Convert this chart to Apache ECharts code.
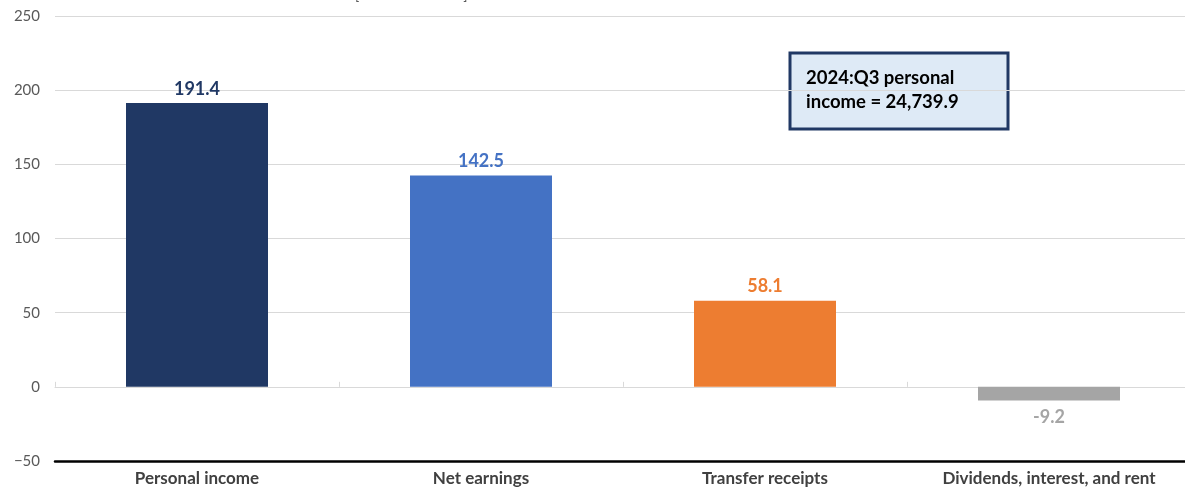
<!DOCTYPE html>
<html>
<head>
<meta charset="utf-8">
<script src="https://cdn.jsdelivr.net/npm/echarts@6/dist/echarts.min.js"></script>
<style>html,body{margin:0;padding:0;background:#fff;overflow:hidden}#c{width:1191px;height:487px}</style>
</head>
<body>
<div id="c"></div>
<script>
const categories = ['Personal income', 'Net earnings', 'Transfer receipts', 'Dividends, interest, and rent'];
const values = [191.4, 142.5, 58.1, -9.2];
const barColors = ['#203864', '#4472C4', '#ED7D31', '#A5A5A5'];
const yTicks = { min: -50, max: 250, interval: 50 };
const subtitle = '[Billions of dollars]';
const noteLines = ['2024:Q3 personal', 'income = 24,739.9'];

const FONT = 'Lato, "Open Sans", sans-serif';
const chart = echarts.init(document.getElementById('c'), null, { renderer: 'canvas' });
chart.setOption({
  animation: false,
  textStyle: { fontFamily: FONT },
  grid: { left: 55, right: 0, top: 16, bottom: 26, containLabel: false },
  xAxis: [
    {
      type: 'category', data: categories, position: 'bottom',
      axisLine: { onZero: false, lineStyle: { color: '#000', width: 2.5 } },
      axisTick: { show: false },
      axisLabel: { color: '#404040', fontWeight: 'bold', fontSize: 17, margin: 9, fontFamily: FONT, interval: 0 }
    },
    {
      type: 'category', data: categories, position: 'bottom',
      axisLine: { onZero: true, lineStyle: { color: '#d9d9d9', width: 1 } },
      axisTick: { show: true, inside: true, length: 5, lineStyle: { color: '#d9d9d9' } },
      axisLabel: { show: false }
    }
  ],
  yAxis: {
    type: 'value', min: yTicks.min, max: yTicks.max, interval: yTicks.interval,
    axisLine: { show: false }, axisTick: { show: false },
    axisLabel: { color: '#595959', fontSize: 15, margin: 15, fontFamily: FONT,
      formatter: v => v < 0 ? '\u2212' + Math.abs(v) : String(v) },
    splitLine: { lineStyle: { color: '#d9d9d9', width: 1 } }
  },
  series: [{
    type: 'bar', xAxisIndex: 0, barWidth: '50%',
    data: values.map((v, i) => ({
      value: v,
      itemStyle: { color: barColors[i] },
      label: { color: barColors[i], position: v < 0 ? 'bottom' : 'top', distance: v < 0 ? 8 : 5 }
    })),
    label: { show: true, fontWeight: 'bold', fontSize: 18, fontFamily: FONT,
      formatter: p => p.value.toFixed(1) }
  }],
  graphic: [
    { type: 'text', left: 355, top: -12, style: { text: subtitle, fontSize: 14, fill: '#595959', fontFamily: FONT } },
    { type: 'rect', shape: { x: 790, y: 53, width: 218, height: 76 },
      style: { fill: '#DEEAF6', stroke: '#203864', lineWidth: 3 } },
    { type: 'text', x: 806, y: 66, style: { text: noteLines.join('\n'), fontSize: 18.5, fontWeight: 'bold', fill: '#000', lineHeight: 24, fontFamily: FONT } }
  ]
});
</script>
</body>
</html>
